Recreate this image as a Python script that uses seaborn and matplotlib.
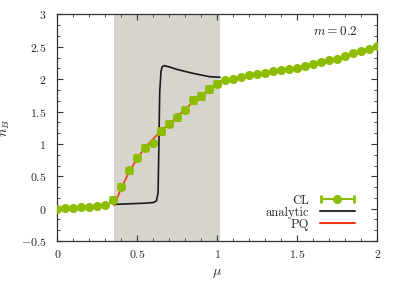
import numpy as np
import pandas as pd
import matplotlib
matplotlib.use('Agg')
import matplotlib.pyplot as plt
import seaborn as sns
from matplotlib.ticker import MultipleLocator, AutoMinorLocator, FuncFormatter
from matplotlib.container import ErrorbarContainer
from matplotlib.legend_handler import HandlerErrorbar

# CL data
mu_cl = [0.00, 0.05, 0.10, 0.15, 0.20, 0.25, 0.30, 0.35, 0.40, 0.45, 0.50, 0.55, 0.60, 0.65,
         0.70, 0.75, 0.80, 0.85, 0.90, 0.95, 1.00, 1.05, 1.10, 1.15, 1.20, 1.25, 1.30, 1.35,
         1.40, 1.45, 1.50, 1.55, 1.60, 1.65, 1.70, 1.75, 1.80, 1.85, 1.90, 1.95, 2.00]
n_cl = [0.00, 0.005, 0.01, 0.02, 0.025, 0.035, 0.05, 0.14, 0.34, 0.59, 0.79, 0.94, 1.01, 1.20,
        1.31, 1.41, 1.53, 1.68, 1.74, 1.85, 1.93, 1.99, 2.00, 2.03, 2.06, 2.08, 2.10, 2.12,
        2.14, 2.16, 2.18, 2.21, 2.23, 2.26, 2.29, 2.32, 2.36, 2.40, 2.43, 2.47, 2.51]
err_cl = [0, 0, 0, 0, 0, 0, 0, 0.04, 0.04, 0.04, 0.04, 0.04, 0.01, 0.04,
          0.04, 0.04, 0.04, 0.04, 0.04, 0.04, 0.04, 0.02, 0, 0, 0, 0, 0, 0,
          0, 0, 0, 0, 0, 0, 0, 0, 0, 0, 0, 0, 0]

# analytic curve
mu_an = [0.356, 0.45, 0.55, 0.60, 0.62, 0.63, 0.635, 0.64, 0.648, 0.655, 0.667, 0.70,
         0.75, 0.85, 0.95, 1.017]
n_an = [0.066, 0.075, 0.085, 0.095, 0.12, 0.25, 1.0, 1.8, 2.12, 2.19, 2.21, 2.19,
        2.15, 2.09, 2.04, 2.03]

# phase quenched
mu_pq = [0.356, 0.40, 0.45, 0.50, 0.55, 0.60, 0.65, 0.70, 0.75, 0.80, 0.85, 0.90, 0.95,
         1.00, 1.017, 1.10, 1.20, 1.30, 1.40, 1.50, 1.60, 1.70, 1.80, 1.90, 2.00]
n_pq = [0.05, 0.32, 0.57, 0.78, 0.95, 1.08, 1.20, 1.31, 1.42, 1.54, 1.65, 1.75, 1.85,
        1.94, 1.97, 2.00, 2.05, 2.09, 2.13, 2.17, 2.22, 2.28, 2.35, 2.42, 2.50]

# shaded mixed-phase region
band = [0.356, 1.017]

sns.set_theme(style='ticks')
plt.rcParams['font.family'] = ['serif']
plt.rcParams['font.serif'] = ['cmr10', 'DejaVu Serif']
plt.rcParams['mathtext.fontset'] = 'cm'
plt.rcParams['axes.formatter.use_mathtext'] = True

green = '#8cbd00'
red = '#f23a1a'

fig = plt.figure(figsize=(3.99, 2.81), dpi=100)
ax = fig.add_axes([0.1436, 0.1423, 0.8020, 0.8061])

ax.axvspan(band[0], band[1], color='#d8d3cd', lw=0, zorder=0)

an = pd.DataFrame({'mu': mu_an, 'n': n_an})
pq = pd.DataFrame({'mu': mu_pq, 'n': n_pq})
sns.lineplot(data=an, x='mu', y='n', ax=ax, color='#1a1a1a', lw=1.2, sort=False, zorder=2)
sns.lineplot(data=pq, x='mu', y='n', ax=ax, color=red, lw=1.2, sort=False, zorder=3)

# note: no mew here, it would override capthick
eb = ax.errorbar(mu_cl, n_cl, yerr=err_cl, fmt='o', color=green, ms=5.5,
                 elinewidth=1.5, capsize=3, capthick=2, zorder=4)

ax.set_xlim(0, 2)
ax.set_ylim(-0.5, 3)
ax.xaxis.set_major_locator(MultipleLocator(0.5))
ax.xaxis.set_minor_locator(MultipleLocator(0.1))
ax.yaxis.set_major_locator(MultipleLocator(0.5))
ax.yaxis.set_minor_locator(AutoMinorLocator(3))
fmt = FuncFormatter(lambda v, p: f'${v:g}$')
ax.xaxis.set_major_formatter(fmt)
ax.yaxis.set_major_formatter(fmt)
ax.tick_params(which='both', direction='in', top=True, right=True, color='#333333',
               labelsize=8.5)
ax.tick_params(axis='y', which='major', pad=8)
ax.tick_params(axis='x', which='major', pad=5)
ax.tick_params(which='major', length=4, width=0.8)
ax.tick_params(which='minor', length=2.5, width=0.6)
for s in ax.spines.values():
    s.set_linewidth(0.9)
    s.set_color('#333333')

ax.set_xlabel(r'$\mu$', fontsize=10, labelpad=5)
ax.set_ylabel(r'$n_B$', fontsize=10, labelpad=6)

ax.text(0.937, 0.925, r'$m = 0.2$', transform=ax.transAxes, ha='right', va='center',
        fontsize=9.5)

# legend in gnuplot style: text left, sample right
cl_handle = ErrorbarContainer(eb.lines, has_xerr=True, has_yerr=False, label='CL')
h_an = plt.Line2D([], [], color='#333333', lw=1.5)
h_pq = plt.Line2D([], [], color=red, lw=1.5)
ax.legend([cl_handle, h_an, h_pq], ['CL', 'analytic', 'PQ'],
          handler_map={ErrorbarContainer: HandlerErrorbar(xerr_size=1.3)},
          loc='lower right', bbox_to_anchor=(0.93, 0.045), frameon=False,
          markerfirst=False, fontsize=9, handlelength=2.8, handletextpad=0.85,
          labelspacing=0, borderpad=0, borderaxespad=0, numpoints=1)

fig.savefig('out.png', dpi=100)
